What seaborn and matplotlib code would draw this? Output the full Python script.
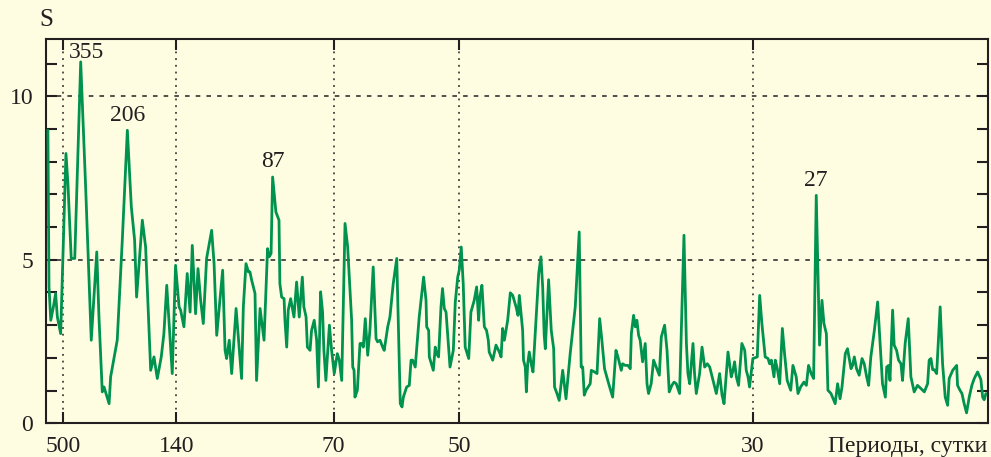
import matplotlib
matplotlib.use("Agg")
import matplotlib.pyplot as plt
import seaborn as sns
import pandas as pd

# Frequency, cycles per 1000 days (x axis is linear in frequency, labelled in periods)
freq = [
    1.30, 1.35, 1.43, 1.55, 1.65, 1.73, 1.88, 2.12, 2.21, 2.36, 2.52, 2.79, 3.02, 3.27, 3.52, 3.62,
    3.77, 3.85, 4.08, 4.15, 4.45, 4.68, 4.91, 5.09, 5.24, 5.33, 5.59, 5.74, 5.97, 6.12, 6.27, 6.45,
    6.57, 6.70, 6.95, 7.10, 7.26, 7.33, 7.48, 7.63, 7.76, 7.86, 8.01, 8.12, 8.24, 8.36,
    8.51, 8.74, 8.85, 8.97, 9.24, 9.35, 9.42, 9.54, 9.65, 9.85, 10.10, 10.18, 10.30, 10.41, 10.48,
    10.56, 10.71, 10.78, 10.94, 11.12, 11.28, 11.35, 11.44, 11.51, 11.66, 11.80, 11.84, 11.92, 12.03,
    12.07, 12.15, 12.22, 12.33, 12.48, 12.60, 12.72, 12.86, 12.93, 13.03, 13.09, 13.21, 13.28, 13.40,
    13.51, 13.59, 13.69, 13.78, 13.84, 13.93, 14.09, 14.19, 14.31, 14.45, 14.54, 14.65, 14.80, 14.92,
    15.10, 15.15, 15.21, 15.25, 15.36, 15.48,
    15.57, 15.63, 15.72, 15.83, 15.93, 16.08, 16.21, 16.28, 16.39, 16.51, 16.58, 16.74, 16.84, 16.99,
    17.15, 17.31, 17.39, 17.45, 17.60, 17.72, 17.80, 17.87, 17.99, 18.17, 18.37, 18.48, 18.51, 18.60,
    18.63, 18.81, 18.90, 18.96, 19.05, 19.16, 19.23, 19.31, 19.39, 19.57, 19.72, 19.81, 19.92, 19.99,
    20.08, 20.17, 20.26, 20.42, 20.52, 20.67, 20.78, 20.87, 20.93, 21.02, 21.13, 21.23, 21.31, 21.35,
    21.51, 21.66, 21.81, 21.89, 21.96, 22.04, 22.19, 22.31, 22.42, 22.57,
    22.66, 22.72, 22.87, 22.91, 22.99, 23.04, 23.10, 23.17, 23.26, 23.34, 23.47, 23.60, 23.70, 23.78,
    23.85, 23.90, 24.05, 24.17, 24.28, 24.32, 24.43, 24.53, 24.69, 24.84, 25.03, 25.26, 25.44, 25.53,
    25.60, 25.67, 25.75, 25.94, 25.99, 26.14, 26.25, 26.37, 26.47, 26.59, 26.78, 26.96, 27.11, 27.20,
    27.35, 27.41, 27.53, 27.65, 27.76, 27.81, 27.91, 27.99, 28.06, 28.14, 28.21, 28.32, 28.44, 28.52,
    28.59, 28.71, 28.82, 28.97, 29.08, 29.17, 29.32, 29.43, 29.53, 29.65,
    29.75, 29.85, 30.00, 30.20, 30.31, 30.38, 30.46, 30.61, 30.68, 30.76, 30.91, 31.02, 31.14, 31.26,
    31.37, 31.52, 31.67, 31.82, 31.93, 32.02, 32.20, 32.35, 32.43, 32.50, 32.58, 32.68, 32.83, 32.96,
    33.03, 33.11, 33.18, 33.33, 33.53, 33.64, 33.74, 33.89, 34.02, 34.09, 34.17, 34.29, 34.35, 34.44,
    34.55, 34.67, 34.77, 34.89, 35.05, 35.15, 35.30, 35.38, 35.50, 35.65, 35.76, 35.86, 35.98, 36.09,
    36.21, 36.36, 36.47, 36.56, 36.67, 36.74,
    36.88, 37.07, 37.18, 37.29, 37.38, 37.53, 37.63, 37.79, 37.86, 37.94, 38.04, 38.16, 38.29, 38.39,
    38.50, 38.59, 38.69, 38.85, 39.00, 39.22, 39.35, 39.41, 39.50, 39.56, 39.68, 39.75, 39.86, 39.95,
    40.06, 40.13, 40.25, 40.39, 40.51, 40.66, 40.81, 40.97, 41.12, 41.27, 41.34, 41.42, 41.50, 41.57,
    41.68, 41.84, 41.95, 42.07, 42.18, 42.25, 42.41, 42.59, 42.63, 42.74, 42.83, 42.93, 43.04, 43.16,
    43.28, 43.39, 43.54, 43.69, 43.77, 43.84, 43.92,
]

# Spectral estimate S
power = [
    8.96, 4.17, 3.15, 3.56, 3.97, 3.25, 2.74, 8.25, 7.33, 5.04, 5.04, 11.05, 7.13, 2.54, 5.24, 3.25,
    0.96, 1.11, 0.60, 1.42, 2.54, 5.60, 8.96, 6.62, 5.60, 3.86, 6.21, 5.39, 1.62, 2.03, 1.37, 2.03,
    2.74, 4.22, 1.52, 4.83, 3.56, 3.46, 2.95, 4.58, 3.40, 5.44, 3.35, 4.73, 3.76, 3.05,
    5.04, 5.90, 4.88, 2.69, 4.68, 2.23, 1.98, 2.54, 1.52, 3.51, 1.37, 3.56, 4.88, 4.63, 4.63,
    4.37, 3.97, 1.31, 3.51, 2.54, 5.34, 5.09, 5.19, 7.53, 6.46, 6.21, 4.27, 3.86, 3.81,
    3.15, 2.33, 3.46, 3.81, 3.25, 4.32, 3.25, 4.47, 3.56, 3.25, 2.33, 2.23, 2.84, 3.15,
    2.54, 1.11, 4.02, 3.40, 2.23, 1.31, 3.00, 2.23, 1.52, 2.13, 1.93, 1.31, 6.11, 5.39,
    3.15, 1.72, 1.62, 0.80, 1.01, 2.44,
    2.44, 2.33, 3.20, 2.08, 2.84, 4.78, 2.59, 2.49, 2.54, 2.33, 2.23, 2.95, 3.25, 4.27,
    5.04, 0.60, 0.50, 0.80, 1.11, 1.16, 1.93, 1.93, 1.72, 3.25, 4.47, 3.76, 2.95, 2.84,
    2.03, 1.62, 2.33, 2.13, 2.03, 3.56, 4.12, 3.51, 3.40, 1.72, 2.23, 3.71, 4.47, 4.68,
    5.39, 4.27, 2.33, 1.98, 3.40, 3.76, 4.17, 3.15, 3.86, 4.22, 2.95, 2.84, 2.54, 2.18,
    1.93, 2.39, 2.18, 2.03, 2.90, 2.54, 3.15, 3.99, 3.91, 3.56,
    3.30, 3.91, 2.84, 1.93, 1.72, 0.96, 1.82, 2.18, 1.82, 1.57, 3.05, 4.58, 5.09, 4.17,
    2.69, 2.28, 4.39, 2.84, 2.28, 1.11, 0.91, 0.70, 1.62, 0.75, 2.13, 3.56, 5.85, 1.72,
    1.72, 0.86, 1.01, 1.21, 1.62, 1.57, 1.52, 3.20, 2.54, 1.67, 1.21, 0.80, 2.23, 2.03,
    1.62, 1.82, 1.77, 1.77, 1.67, 2.74, 3.30, 2.95, 3.15, 2.69, 2.54, 1.88, 2.44, 1.21,
    0.91, 1.21, 1.93, 1.67, 1.47, 2.64, 3.00, 2.23, 0.96, 1.16,
    1.26, 1.21, 0.91, 5.75, 2.44, 1.52, 1.21, 2.44, 1.52, 0.91, 1.52, 2.33, 1.72, 1.82,
    1.72, 1.31, 0.91, 1.52, 0.86, 0.60, 2.18, 1.42, 1.62, 1.88, 1.42, 1.16, 2.44, 2.23,
    1.62, 1.42, 1.11, 1.98, 2.03, 3.91, 3.05, 2.03, 1.98, 1.82, 1.93, 1.42, 1.93, 1.67,
    1.21, 2.90, 2.13, 1.31, 1.01, 1.77, 1.42, 0.91, 1.11, 1.26, 1.16, 1.77, 1.52, 1.37,
    6.97, 2.39, 3.76, 3.05, 2.74, 1.01,
    0.91, 0.60, 1.21, 0.75, 1.11, 2.13, 2.28, 1.67, 1.77, 2.03, 1.67, 1.47, 1.98, 1.82,
    1.42, 1.16, 2.03, 2.84, 3.71, 1.21, 0.80, 1.72, 1.77, 1.31, 3.46, 2.39, 2.23, 1.93,
    1.82, 1.31, 2.44, 3.20, 1.42, 0.96, 1.16, 1.06, 0.96, 1.21, 1.93, 1.98, 1.64, 1.64,
    1.52, 3.56, 1.82, 0.80, 0.55, 1.37, 1.62, 1.77, 1.16, 1.01, 0.91, 0.60, 0.32, 0.80,
    1.16, 1.37, 1.57, 1.34, 0.80, 0.72, 0.91,
]

tick_periods = [500, 140, 70, 50, 30]
y_major = [0, 5, 10]
peak_labels = ["355", "206", "87", "27"]
peak_freqs = [2.79, 4.91, 11.51, 36.21]

BG = "#FFFDE1"
GREEN = "#00924F"
INK = "#231F20"
FS = 17

sns.set_style("ticks")
plt.rcParams["font.family"] = ["Liberation Serif", "DejaVu Serif"]
plt.rcParams["font.size"] = FS

W, H = 991, 457
fig = plt.figure(figsize=(W / 100, H / 100), dpi=100, facecolor=BG)
L, R, T, B = 45.7, 987.7, 39.0, 423.3
ax = fig.add_axes([L / W, 1 - B / H, (R - L) / W, (B - T) / H])
ax.set_facecolor(BG)

df = pd.DataFrame({"f": freq, "S": power})
sns.lineplot(data=df, x="f", y="S", ax=ax, color=GREEN, lw=2.0,
             estimator=None, sort=False, zorder=3)

ax.set_xlim(1.20, 44.0)
ax.set_ylim(0, 11.75)
xt = [1000.0 / p for p in tick_periods]
ax.set_xticks(xt)
ax.set_xticklabels([str(p) for p in tick_periods])
ax.set_yticks(y_major)
ax.set_yticks(list(range(0, 12)), minor=True)
ax.tick_params(axis="both", which="both", direction="in", length=8, width=1.5,
               color=INK, labelcolor=INK, top=True, right=True, labelsize=FS)
ax.tick_params(axis="x", pad=9)
ax.tick_params(axis="y", pad=9)
ax.set_xlabel("")
ax.set_ylabel("")
for sp in ax.spines.values():
    sp.set_visible(True)
    sp.set_linewidth(1.5)
    sp.set_color(INK)

for t in xt:
    ax.axvline(t, color=INK, lw=1.1, ls=(0, (1.2, 3.2)), zorder=1)
for v in y_major[1:]:
    ax.axhline(v, color=INK, lw=1.1, ls=(0, (3, 4)), zorder=1)

for lbl, pf in zip(peak_labels, peak_freqs):
    s = power[freq.index(pf)]
    off = (4, 3) if lbl == "355" else (0, 7)
    ax.annotate(lbl, (pf, s), xytext=off, textcoords="offset points",
                ha="center", va="baseline", color=INK, fontsize=FS)

fig.text(46 / W, 1 - 20 / H, "S", ha="center", va="center", color=INK, fontsize=FS + 1)
ax.text(1.0, -0.0747, "Периоды, сутки", transform=ax.transAxes,
        ha="right", va="baseline", color=INK, fontsize=FS)

fig.savefig("out.png", dpi=100, facecolor=BG)
